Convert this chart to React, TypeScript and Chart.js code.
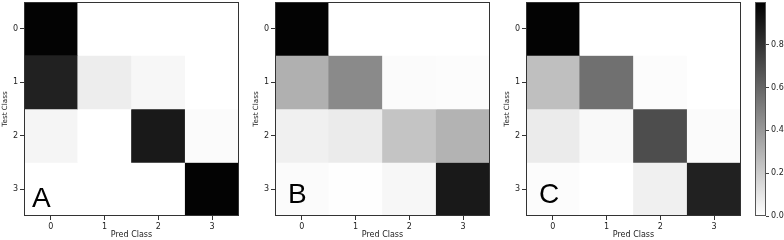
import React, { useEffect, useRef } from 'react';
import { Chart, registerables } from 'chart.js';

Chart.register(...registerables);
Chart.defaults.font.family = "'DejaVu Sans', sans-serif";
Chart.defaults.color = '#222';

// ---- data ----
const classLabels = ['0', '1', '2', '3'];
const matrixA = [
  [0.99, 0.0, 0.0, 0.0],
  [0.87, 0.07, 0.03, 0.0],
  [0.04, 0.0, 0.9, 0.015],
  [0.0, 0.0, 0.0, 0.99],
];
const matrixB = [
  [0.99, 0.0, 0.0, 0.0],
  [0.31, 0.46, 0.015, 0.01],
  [0.06, 0.08, 0.23, 0.3],
  [0.015, 0.005, 0.03, 0.9],
];
const matrixC = [
  [0.99, 0.0, 0.0, 0.0],
  [0.25, 0.56, 0.01, 0.0],
  [0.08, 0.025, 0.7, 0.015],
  [0.01, 0.0, 0.06, 0.87],
];
const panelLetters = ['A', 'B', 'C'];
const colorbarTicks = [0, 0.2, 0.4, 0.6, 0.8];
const colorMin = 0;
const colorMax = 1;
const xTitle = 'Pred Class';
const yTitle = 'Test Class';

function gray(v: number): string {
  const t = Math.min(1, Math.max(0, (v - colorMin) / (colorMax - colorMin)));
  const g = Math.round(255 * (1 - t));
  return `rgb(${g},${g},${g})`;
}

const framePlugin = (color: string) => ({
  id: 'frame',
  afterDraw(chart: any) {
    const { ctx, chartArea: a } = chart;
    ctx.save();
    ctx.strokeStyle = color;
    ctx.lineWidth = 1;
    ctx.strokeRect(a.left + 0.5, a.top + 0.5, a.right - a.left - 1, a.bottom - a.top - 1);
    ctx.restore();
  },
});

const letterPlugin = (text: string, dx: number, baseline: number) => ({
  id: 'panelLetter',
  afterDatasetsDraw(chart: any) {
    const { ctx, chartArea: a } = chart;
    ctx.save();
    ctx.font = "28px 'Liberation Sans', Arial, sans-serif";
    ctx.fillStyle = '#000';
    ctx.textBaseline = 'alphabetic';
    ctx.textAlign = 'left';
    ctx.fillText(text, a.left + dx, baseline);
    ctx.restore();
  },
});

function heatmapConfig(matrix: number[][], letter: string, dx: number, baseline: number): any {
  const datasets = matrix.map((row, r) => ({
    label: `row ${classLabels[r]}`,
    data: row.map(() => [r - 0.5, r + 0.5]),
    backgroundColor: row.map((v) => gray(v)),
    borderWidth: 0,
    grouped: false,
    barPercentage: 1,
    categoryPercentage: 1,
  }));
  return {
    type: 'bar',
    data: { labels: classLabels, datasets },
    options: {
      animation: false,
      responsive: false,
      events: [],
      layout: { padding: { top: 2, right: 1, bottom: 0, left: 0 } },
      plugins: { legend: { display: false }, tooltip: { enabled: false } },
      scales: {
        x: {
          type: 'category',
          offset: true,
          grid: { drawOnChartArea: false, drawTicks: true, tickLength: 4, color: '#333', offset: false },
          border: { display: false },
          ticks: { color: '#222', font: { size: 8 }, padding: 2, maxRotation: 0 },
          title: { display: true, text: xTitle, color: '#222', font: { size: 8 }, padding: { top: 0, bottom: 0 } },
          afterFit: (s: any) => {
            s.height = 24;
            s.paddingLeft = 0;
            s.paddingRight = 0;
          },
        },
        y: {
          type: 'linear',
          reverse: true,
          min: -0.5,
          max: 3.5,
          afterBuildTicks: (s: any) => {
            s.ticks = classLabels.map((_, i) => ({ value: i }));
          },
          grid: { drawOnChartArea: false, drawTicks: true, tickLength: 4, color: '#333' },
          border: { display: false },
          ticks: {
            color: '#222',
            font: { size: 8 },
            padding: 2,
            callback: (v: any) => classLabels[Math.round(Number(v))],
          },
          title: { display: true, text: yTitle, color: '#222', font: { size: 7.2 }, padding: { top: 0.5, bottom: 0 } },
          afterFit: (s: any) => {
            s.width = 24;
            s.paddingTop = 0;
            s.paddingBottom = 0;
          },
        },
      },
    },
    plugins: [framePlugin('#333'), letterPlugin(letter, dx, baseline)],
  };
}

function colorbarConfig(): any {
  return {
    type: 'bar',
    data: {
      labels: ['scale'],
      datasets: [
        {
          label: 'colorbar',
          data: [[colorMin, colorMax]],
          backgroundColor: (c: any) => {
            const a = c.chart.chartArea;
            if (!a) return '#888';
            const g = c.chart.ctx.createLinearGradient(0, a.bottom, 0, a.top);
            g.addColorStop(0, gray(colorMin));
            g.addColorStop(1, gray(colorMax));
            return g;
          },
          borderWidth: 0,
          barPercentage: 1,
          categoryPercentage: 1,
        },
      ],
    },
    options: {
      animation: false,
      responsive: false,
      events: [],
      layout: { padding: { top: 2, right: 0, bottom: 24, left: 15 } },
      plugins: { legend: { display: false }, tooltip: { enabled: false } },
      scales: {
        x: { display: false, offset: true },
        y: {
          type: 'linear',
          position: 'right',
          min: colorMin,
          max: colorMax,
          afterBuildTicks: (s: any) => {
            s.ticks = colorbarTicks.map((v) => ({ value: v }));
          },
          grid: { drawOnChartArea: false, drawTicks: true, tickLength: 3, color: '#444' },
          border: { display: false },
          ticks: { color: '#222', font: { size: 8 }, padding: 2, callback: (v: any) => Number(v).toFixed(1) },
          afterFit: (s: any) => {
            s.width = 18;
            s.paddingTop = 0;
            s.paddingBottom = 0;
          },
        },
      },
    },
    plugins: [framePlugin('#555')],
  };
}

function ChartCanvas({ left, width, makeConfig }: { left: number; width: number; makeConfig: () => any }) {
  const ref = useRef<HTMLCanvasElement | null>(null);
  useEffect(() => {
    if (!ref.current) return;
    const chart = new Chart(ref.current, makeConfig());
    return () => chart.destroy();
  }, []);
  return (
    <canvas
      ref={ref}
      width={width}
      height={240}
      style={{ position: 'absolute', left, top: 0, width, height: 240 }}
    />
  );
}

export default function App() {
  return (
    <div style={{ position: 'absolute', left: 0, top: 0, width: 784, height: 240, background: '#fff', overflow: 'hidden' }}>
      <ChartCanvas left={0} width={240} makeConfig={() => heatmapConfig(matrixA, panelLetters[0], 8, 207)} />
      <ChartCanvas left={251} width={240} makeConfig={() => heatmapConfig(matrixB, panelLetters[1], 13, 203)} />
      <ChartCanvas left={502} width={240} makeConfig={() => heatmapConfig(matrixC, panelLetters[2], 13, 203)} />
      <ChartCanvas left={740} width={44} makeConfig={colorbarConfig} />
    </div>
  );
}
